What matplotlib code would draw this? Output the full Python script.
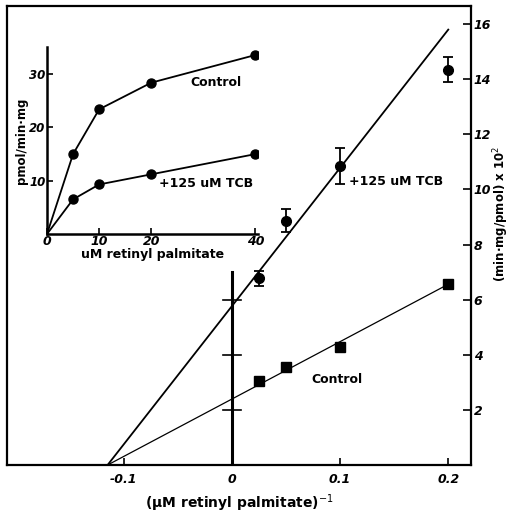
import matplotlib
matplotlib.use("Agg")
import matplotlib.pyplot as plt
import numpy as np

# ---- main plot data (double reciprocal) ----
inv_conc = [0.025, 0.05, 0.1, 0.2]
ctrl_inv_rate = [3.04, 3.54, 4.30, 6.56]
ctrl_err = [0.12, 0.15, 0.15, 0.10]
tcb_inv_rate = [6.78, 8.87, 10.85, 14.35]
tcb_err = [0.27, 0.43, 0.66, 0.45]
x_intercept = -0.115
ctrl_line_end = 6.56
tcb_line_end = 15.8
x_end = 0.2

x_ticks = [-0.1, 0, 0.1, 0.2]
x_ticklabels = ["-0.1", "0", "0.1", "0.2"]
y_ticks = [2, 4, 6, 8, 10, 12, 14, 16]
y_ticklabels = ["2", "4", "6", "8", "10", "12", "14", "16"]
inner_axis_ticks = [2, 4, 6]
inner_axis_top = 7.0

# ---- inset data ----
inset_conc = [0, 5, 10, 20, 40]
inset_ctrl = [0, 15.0, 23.4, 28.4, 33.6]
inset_tcb = [0, 6.5, 9.3, 11.2, 15.0]
inset_xticks = [0, 10, 20, 40]
inset_yticks = [10, 20, 30]

fig = plt.figure(figsize=(5.10, 5.16), dpi=100)
ax = fig.add_axes([0.0137, 0.0988, 0.9098, 0.8892])
ax.set_xlim(-0.208, 0.221)
ax.set_ylim(0, 16.65)

for s in ax.spines.values():
    s.set_linewidth(1.6)

# fitted lines
ax.plot([x_intercept, x_end], [0, tcb_line_end], color="black", lw=1.3)
ax.plot([x_intercept, x_end], [0, ctrl_line_end], color="black", lw=0.9)

ax.errorbar(inv_conc, tcb_inv_rate, yerr=tcb_err, fmt="o", color="black",
            ms=7, capsize=3.8, elinewidth=1.3, capthick=1.3)
ax.errorbar(inv_conc, ctrl_inv_rate, yerr=ctrl_err, fmt="s", color="black",
            ms=6.5, capsize=0, elinewidth=1.3)

# inner y axis at x = 0
ax.plot([0, 0], [0, inner_axis_top], color="black", lw=2.2)
for t in inner_axis_ticks:
    ax.plot([-0.008, 0.008], [t, t], color="black", lw=1.2)

ax.set_xticks(x_ticks)
ax.set_xticklabels(x_ticklabels, fontstyle="italic", fontweight="bold", fontsize=9)
ax.tick_params(axis="x", direction="in", length=5, width=1.2, pad=6)
ax.yaxis.tick_right()
ax.set_yticks(y_ticks)
ax.set_yticklabels(y_ticklabels, fontstyle="italic", fontweight="bold", fontsize=9)
ax.tick_params(axis="y", direction="in", length=6, width=1.2, pad=2)
ax.set_xlabel("(µM retinyl palmitate)$^{-1}$", fontsize=10, fontweight="bold",
              labelpad=4)
fig.text(0.983, 0.585, "(min·mg/pmol) x 10$^{2}$", fontsize=8.5, fontweight="bold",
         rotation=90, ha="center", va="center")

ax.text(0.108, 10.3, "+125 uM TCB", fontsize=9, fontweight="bold",
        va="center", ha="left")
ax.text(0.097, 3.1, "Control", fontsize=9, fontweight="bold",
        va="center", ha="center")

# ---- inset ----
ins = fig.add_axes([0.0922, 0.5465, 0.4137, 0.3624])
ins.set_facecolor("none")
ins.set_xlim(0, 40.5)
ins.set_ylim(0, 35.1)
ins.spines["top"].set_visible(False)
ins.spines["right"].set_visible(False)
ins.spines["left"].set_linewidth(1.8)
ins.spines["bottom"].set_linewidth(1.8)
ins.plot(inset_conc, inset_ctrl, "-o", color="black", lw=1.3, ms=6.5,
         markevery=list(range(1, len(inset_conc))))
ins.plot(inset_conc, inset_tcb, "-o", color="black", lw=1.3, ms=6.5,
         markevery=list(range(1, len(inset_conc))))
ins.set_xticks(inset_xticks)
ins.set_xticklabels([str(v) for v in inset_xticks], fontstyle="italic",
                    fontweight="bold", fontsize=9)
ins.set_yticks(inset_yticks)
ins.set_yticklabels([str(v) for v in inset_yticks], fontstyle="italic",
                    fontweight="bold", fontsize=8.5)
ins.tick_params(direction="in", length=4, width=1.2, pad=1)
ins.set_xlabel("uM retinyl palmitate", fontsize=9, fontweight="bold", labelpad=0)
ins.set_ylabel("pmol/min·mg", fontsize=8.5, fontweight="bold", labelpad=1)
ins.text(32.5, 28.5, "Control", fontsize=9, fontweight="bold", ha="center", va="center")
ins.text(30.5, 9.5, "+125 uM TCB", fontsize=9, fontweight="bold", ha="center", va="center")

fig.savefig("out.png", dpi=100)
